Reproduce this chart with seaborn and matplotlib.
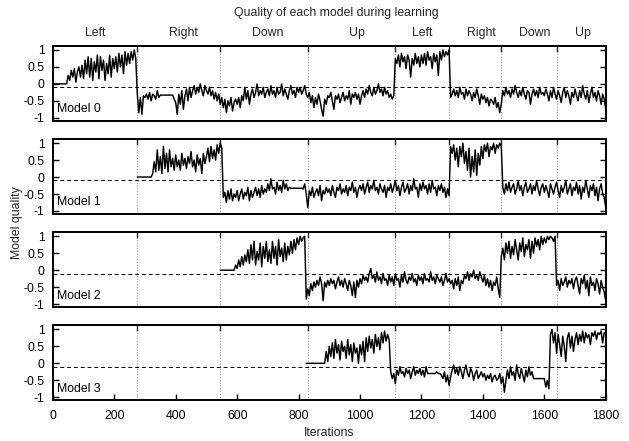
import numpy as np
import pandas as pd
import matplotlib
matplotlib.use("Agg")
import matplotlib.pyplot as plt
import seaborn as sns

# ---------------- data (one value every 5 iterations) -------------
STEP = 5
phase_names = ["Left", "Right", "Down", "Up", "Left", "Right", "Down", "Up"]
phase_bounds = [275, 545, 830, 1115, 1290, 1460, 1640]
phase_label_x = [137, 425, 698, 990, 1203, 1395, 1568, 1725]
model_names = ["Model 0", "Model 1", "Model 2", "Model 3"]
model_start = [0, 275, 545, 825]
x_ticks = [0, 200, 400, 600, 800, 1000, 1200, 1400, 1600, 1800]
y_ticks = [-1, -0.5, 0, 0.5, 1]
y_ticklabels = ["-1", "-0.5", "0", "0.5", "1"]
baseline = -0.1

m0 = [0, 0, 0, 0, 0, 0, 0, 0, 0, 0, .25, .1, .4, .2, .45, .05, .35, .5, .2, .55,
      .15, .7, .3, .8, .2, .75, .1, .65, .35, .85, .15, .8, .4, .7, .1, .6, .3, .85, .2, .75,
      .45, .8, .35, .9, .5, .85, .3, .95, .55, .9, .6, .95, .7, 1.0, .75, -.3, -.85, -.4, -.9, -.35,
      -.4, -.3, -.45, -.25, -.5, -.3, -.35, -.45, -.2, -.4, -.33, -.33, -.33, -.33, -.33, -.33, -.33, -.33, -.33, -.45,
      -.55, -.9, -.3, -.6, -.2, -.75, -.35, -.15, -.5, -.1, -.4, -.2, -.05, -.3, -.1, -.25, 0.0, -.2, -.35, -.05,
      -.2, -.3, -.1, -.35, -.2, -.45, -.25, -.5, -.3, -.6, -.4, -.7, -.45, -.85, -.5, -.65, -.4, -.8, -.55, -.45,
      -.6, -.4, -.7, -.35, -.5, -.1, -.45, -.2, -.6, -.3, -.15, -.4, -.25, 0.0, -.35, -.2, -.3, -.1, -.4, -.25,
      -.15, -.35, -.05, -.3, -.2, -.4, -.1, -.3, -.25, 0.0, -.35, -.15, -.3, -.45, -.2, -.05, -.3, -.2, -.4, -.1,
      -.25, -.1, -.3, -.2, -.05, -.3, -.4, -.25, -.55, -.35, -.7, -.4, -.6, -.3, -.5, -.75, -.95, -.45, -.6, -.35,
      -.4, -.25, -.5, -.75, -.35, -.45, -.3, -.55, -.4, -.25, -.5, -.35, -.45, -.2, -.6, -.3, -.4, -.25, -.45, -.3,
      -.6, -.35, -.2, -.4, -.15, -.3, -.05, -.25, -.35, -.1, -.3, -.2, 0.0, -.25, -.15, -.35, -.1, -.3, -.2, -.4,
      -.3, -.45, -.35, .75, .6, .85, .5, .9, .65, .8, .45, .85, .7, .2, .75, .55, .9, .6, .8, .5,
      .85, .6, .9, .55, .95, .7, .8, .45, .9, .65, .85, .25, .95, .7, 1.0, .8, .95, .85, 1.0, -.4,
      -.3, -.15, -.35, -.2, -.4, -.1, -.3, -.25, -.45, -.15, -.35, -.2, -.3, -.5, -.25, -.4, -.15, -.35, -.6, -.3,
      -.45, -.35, -.55, -.4, -.65, -.45, -.5, -.6, -.4, -.7, -.55, -.85, -.6, -.2, -.35, -.1, -.3, -.2, -.4, -.15,
      -.3, -.05, -.25, -.4, -.2, -.35, -.1, -.3, -.45, -.2, -.25, -.6, -.3, -.15, -.35, -.2, -.4, -.1, -.3, -.25,
      -.35, -.15, -.3, -.5, -.2, -.4, -.1, -.3, -.45, -.2, -.35, -.55, -.25, -.1, -.4, -.2, -.35, -.6, -.25, -.4,
      -.15, -.35, -.5, -.2, -.4, -.05, -.3, -.45, -.2, -.55, -.3, -.1, -.4, -.25, -.5, -.2, -.35, -.6, -.3, -.45,
      -.75]

m1 = [0, 0, 0, 0, 0,
      0, 0, 0, 0, 0, .1, .45, .15, .8, .2, .6, .1, .9, .25, .7, .15, .8, .3, .55, .2,
      .65, .3, .5, .2, .7, .35, .55, .25, .6, .4, .75, .3, .5, .15, .65, .35, .55, .1, .7, .4,
      .6, .85, .45, .9, .55, .8, .5, .95, .7, 1.0, .85, -.6, -.45, -.75, -.4, -.65, -.35, -.7, -.5, -.6,
      -.4, -.7, -.5, -.35, -.65, -.45, -.55, -.3, -.7, -.4, -.6, -.45, -.3, -.55, -.35, -.6, -.25, -.5, -.35, -.45,
      -.2, -.4, -.05, -.35, -.3, -.5, -.15, -.4, -.25, -.45, -.1, -.35, -.2, -.4, -.3, -.33, -.33, -.33, -.33, -.33,
      -.33, -.33, -.33, -.35, -.2, -.5, -.9, -.4, -.55, -.3, -.6, -.45, -.35, -.55, -.25, -.7, -.4, -.5, -.3, -.45,
      -.35, -.55, -.25, -.45, -.6, -.3, -.4, -.2, -.5, -.35, -.45, -.25, -.55, -.3, -.4, -.15, -.45, -.3, -.6, -.35,
      -.25, -.4, -.2, -.5, -.3, -.15, -.45, -.25, -.35, -.1, -.4, -.3, -.5, -.2, -.35, -.45, -.25, -.6, -.3, -.4,
      -.2, -.45, -.3, -.1, -.4, -.25, -.55, -.3, -.15, -.45, -.35, -.2, -.5, -.25, -.4, -.05, -.35, -.3, -.6, -.2,
      -.4, -.15, -.35, -.25, -.5, -.2, -.45, -.1, -.35, -.3, -.55, -.25, -.4, -.2, -.45, -.3, -.6, -.35, -.55, .9,
      .7, .95, .5, .85, .3, .9, .6, 1.0, .4, .75, .2, .85, 0.0, .6, .15, .8, .05, .7, .35, .9,
      .55, .95, .75, 1.0, .6, .9, .8, 1.0, .7, .95, .85, 1.0, .9, -.3, -.5, -.2, -.4, -.15, -.45, -.3,
      -.2, -.5, -.35, -.1, -.4, -.25, -.55, -.3, -.15, -.45, -.35, -.2, -.5, -.25, -.4, -.1, -.35, -.55, -.3, -.2,
      -.45, -.25, -.4, -.6, -.2, -.35, -.5, -.3, -.15, -.4, -.6, -.25, -.45, -.3, -.1, -.5, -.35, -.2, -.55, -.3,
      -.4, -.15, -.5, -.25, -.65, -.3, -.45, -.1, -.35, -.6, -.25, -.4, -.2, -.55, -.3, -.7, -.35, -.2, -.5, -.6,
      -.9]

m2 = [0, 0, 0, 0, 0, 0, 0, 0, 0, 0, .15,
      .05, .3, .1, .4, .15, .45, .25, .6, .2, .75, .3, .85, .15, .55, .3, .8, .1, .7, .35, .85,
      .25, .6, .2, .85, .35, .7, .15, .9, .4, .65, .25, .8, .3, .7, .45, .85, .5, .9, .6, .95,
      .75, 1.0, .85, .95, 1.0, -.85, -.55, -.75, -.4, -.6, -.35, -.5, -.3, -.45, -.2, -.4, -.9, -.35, -.5, -.3,
      -.45, -.25, -.4, -.3, -.55, -.35, -.2, -.45, -.3, -.5, -.25, -.4, -.6, -.3, -.45, -.75, -.35, -.8, -.3, -.5,
      -.25, -.4, -.15, -.3, -.2, -.35, -.1, .05, -.25, -.15, -.35, -.05, -.3, -.2, -.4, -.1, -.3, -.25, -.45, -.15,
      -.35, -.2, -.45, -.1, -.3, -.25, -.5, -.15, -.35, -.05, -.3, -.4, -.2, -.3, -.1, -.35, -.25, -.45, -.15, -.3,
      -.2, -.4, -.1, -.3, -.25, -.35, -.05, -.3, -.2, -.4, -.15, -.25, -.35, -.2, -.45, -.3, -.1, -.35, -.25, -.4,
      -.3, -.55, -.25, -.45, -.2, -.6, -.3, -.4, -.15, -.25, -.05, -.3, -.1, -.2, 0.0, -.25, -.15, -.3, -.05, -.2,
      -.35, -.15, -.45, -.25, -.5, -.3, -.6, -.35, -.45, -.2, -.55, -.8, .4, .65, .3, .8, .5, .85, .35, .7,
      .45, .9, .6, .3, .8, .55, .95, .4, .75, .6, .9, .35, .85, .5, .95, .7, .9, .6, 1.0, .75,
      .95, .8, 1.0, .9, 1.0, .95, .85, 1.0, -.45, -.3, -.6, -.25, -.45, -.35, -.2, -.5, -.3, -.4, -.25, -.55,
      -.3, -.2, -.45, -.7, -.25, -.4, -.15, -.55, -.3, -.75, -.2, -.45, -.35, -.6, -.25, -.4, -.7, -.3, -.5, -.65,
      -.9]

m3 = [0, 0, 0, 0, 0, 0, 0, 0, 0, 0, 0, 0, 0, .35, .05,
      .5, .2, .6, .15, .7, .3, .55, .1, .65, .35, .5, .15, .7, .25, .55, .05, .6, .3, .45, 0.0,
      .55, .25, .65, .05, .75, .35, .8, .45, .7, .3, .85, .5, .75, .4, .9, .6, .95, .65, .85, .7,
      -.25, -.45, -.3, -.6, -.2, -.35, -.1, -.3, -.25, -.4, -.15, -.3, -.2, -.45, -.25, -.1, -.35, -.2, -.3, -.15,
      -.35, -.2, -.4, -.1, -.3, -.3, -.3, -.3, -.3, -.3, -.25, -.3, -.3, -.35, -.45, -.25, -.55, -.35, -.65, -.4,
      -.2, -.05, -.3, -.15, -.35, -.1, -.25, -.45, -.2, -.05, -.3, -.4, -.15, -.25, -.5, -.3, -.2, -.45, -.35, -.25,
      -.4, -.3, -.5, -.35, -.45, -.3, -.55, -.4, -.35, -.5, -.45, -.3, -.6, -.4, -.85, -.5, -.2, -.45, -.1, -.35,
      -.25, -.5, -.05, -.3, -.45, -.15, -.35, -.55, -.2, -.4, -.1, -.35, -.25, -.45, -.45, -.45, -.45, -.45, -.45, -.45,
      -.45, -.7, -.5, -.75, .85, 1.0, .6, .9, .3, .85, .55, .2, .8, .5, .05, .75, .9, .45, .8, .35,
      .7, .9, .55, .85, .65, .95, .6, .9, .75, .85, .55, .9, .8, .95, .7, .9, .85, .95, .6, .9,
      .9]

series = [m0, m1, m2, m3]

frames = []
for name, start, vals in zip(model_names, model_start, series):
    frames.append(pd.DataFrame({
        "model": name,
        "iteration": start + STEP * np.arange(len(vals)),
        "quality": vals,
    }))
df = pd.concat(frames, ignore_index=True)

# ---------------- styling ----------------
sns.set_theme(style="ticks")
plt.rcParams["font.family"] = ["Liberation Sans", "DejaVu Sans"]
plt.rcParams["axes.unicode_minus"] = False
FS = 8.8

fig, axes = plt.subplots(4, 1, figsize=(6.29, 4.41), dpi=100, sharex=True)
fig.subplots_adjust(left=0.084, right=0.963, top=0.896, bottom=0.093, hspace=0.247)

for i, (ax, name) in enumerate(zip(axes, model_names)):
    sub = df[df["model"] == name]
    sns.lineplot(data=sub, x="iteration", y="quality", ax=ax, color="black",
                 linewidth=1.05, estimator=None, sort=False, legend=False)
    for b in phase_bounds:
        ax.axvline(b, color="#999999", linestyle=(0, (1, 1.5)), linewidth=0.8, zorder=0)
    ax.axhline(baseline, color="black", linestyle=(0, (4, 3)), linewidth=0.7, zorder=1)
    ax.set_xlim(0, 1800)
    ax.set_ylim(-1.08, 1.12)
    ax.set_yticks(y_ticks)
    ax.set_yticklabels(y_ticklabels, fontsize=FS)
    ax.set_xlabel("")
    ax.set_ylabel("")
    ax.tick_params(axis="y", direction="in", left=True, right=True, length=4,
                   width=1, pad=6, colors="black")
    for sp in ax.spines.values():
        sp.set_linewidth(1.4)
        sp.set_color("black")
        sp.set_visible(True)
    sec = ax.secondary_xaxis("top")
    sec.set_xticks(phase_bounds)
    sec.tick_params(direction="in", length=4, width=1, labeltop=False)
    sec.spines["top"].set_linewidth(1.4)
    ax.text(0.008, 0.15, name, transform=ax.transAxes, ha="left", va="center",
            fontsize=FS, color="black")
    if i < 3:
        ax.tick_params(axis="x", bottom=False, labelbottom=False)
    else:
        ax.set_xticks(x_ticks)
        ax.set_xticklabels([str(t) for t in x_ticks], fontsize=FS)
        ax.tick_params(axis="x", direction="in", bottom=True, length=4, width=1,
                       pad=7, colors="black")

for xpos, lab in zip(phase_label_x, phase_names):
    axes[0].annotate(lab, xy=(xpos, 1.0), xycoords=("data", "axes fraction"),
                     xytext=(0, 9.5), textcoords="offset points",
                     ha="center", va="center", fontsize=FS)

fig.text(336 / 629, 1 - 13 / 441, "Quality of each model during learning",
         ha="center", va="center", fontsize=FS)
fig.text(17 / 629, 1 - 223 / 441, "Model quality", rotation=90,
         ha="center", va="center", fontsize=FS)
fig.text(329 / 629, 1 - 433 / 441, "Iterations", ha="center", va="center", fontsize=FS)

fig.savefig("out.png", dpi=100, facecolor="white")
